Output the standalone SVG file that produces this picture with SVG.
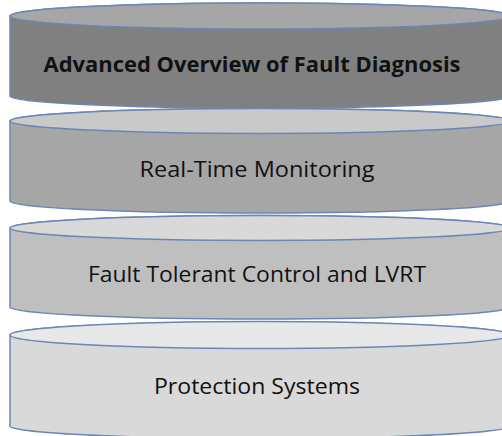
<svg xmlns="http://www.w3.org/2000/svg" width="502" height="436" viewBox="0 0 502 436">
<style>
.edge{stroke:#6c86b6;stroke-width:1.5;}
.lbl{font-family:"Open Sans","Liberation Sans",sans-serif;font-size:22px;fill:#111;text-anchor:middle;}
.b{font-weight:bold;}
</style>
<rect width="502" height="436" fill="#ffffff"/>
<g id="layer4">
<path class="edge" fill="#d9d9d9" d="M10,335 A250,13 0 0 1 510,335 L510,426 A250,12.5 0 0 1 10,426 Z"/>
<ellipse class="edge" fill="#e8e8e8" cx="260" cy="335" rx="250" ry="13.5"/>
<text class="lbl" x="257" y="394" textLength="206" lengthAdjust="spacingAndGlyphs">Protection Systems</text>
</g>
<g id="layer3">
<path class="edge" fill="#bfbfbf" d="M10,228 A250,12.5 0 0 1 510,228 L510,307 A250,12 0 0 1 10,307 Z"/>
<ellipse class="edge" fill="#d9d9d9" cx="260" cy="228" rx="250" ry="12.5"/>
<text class="lbl" x="257" y="282" textLength="338" lengthAdjust="spacingAndGlyphs">Fault Tolerant Control and LVRT</text>
</g>
<g id="layer2">
<path class="edge" fill="#a6a6a6" d="M10,121 A250,12.5 0 0 1 510,121 L510,201 A250,12 0 0 1 10,201 Z"/>
<ellipse class="edge" fill="#c9c9c9" cx="260" cy="121" rx="250" ry="12.5"/>
<text class="lbl" x="257" y="177" textLength="235" lengthAdjust="spacingAndGlyphs">Real-Time Monitoring</text>
</g>
<g id="layer1">
<path class="edge" fill="#808080" d="M10,16 A250,13 0 0 1 510,16 L510,96 A250,12 0 0 1 10,96 Z"/>
<ellipse class="edge" fill="#a6a6a6" cx="260" cy="16" rx="250" ry="13"/>
<text class="lbl b" x="252" y="72" textLength="417" lengthAdjust="spacingAndGlyphs">Advanced Overview of Fault Diagnosis</text>
</g>
<g id="connectors"></g>
</svg>
